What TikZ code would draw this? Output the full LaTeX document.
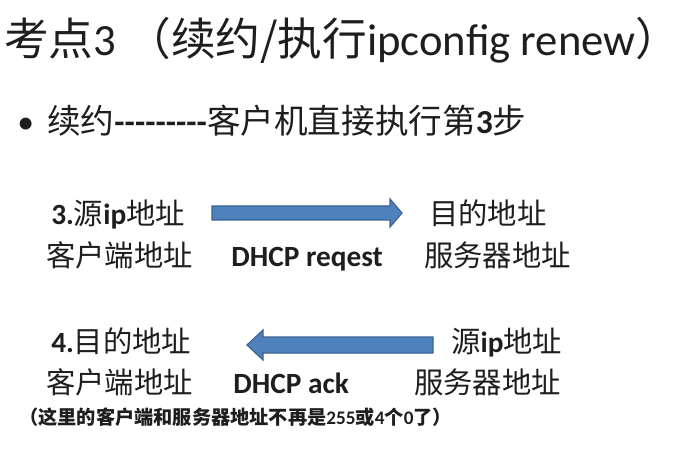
\documentclass[tikz,border=0pt]{standalone}
\usepackage{fontspec}
\setmainfont{Carlito}[Ligatures=TeXOff]
\newfontfamily\zh{Noto Sans CJK SC}
\usepackage{xcolor}
\usetikzlibrary{positioning}
\definecolor{arrowblue}{HTML}{4F81BD}
\definecolor{arrowedge}{HTML}{3A6396}
\definecolor{inkgray}{HTML}{1E1E1E}

\begin{document}
\begin{tikzpicture}[
    x=0.75pt, y=-0.75pt,
    base/.style={inner sep=0pt, anchor=base west, text=inkgray},
    titletext/.style={base, font=\fontsize{33.5}{40}\selectfont},
    bullettext/.style={base, font=\fontsize{25.2}{30}\selectfont},
    rowtext/.style={base, font=\fontsize{22}{26}\selectfont},
    notetext/.style={base, font=\fontsize{14.4}{17}\selectfont\bfseries},
    blockarr/.style={fill=arrowblue, draw=arrowedge, line width=0.9pt,
                     line join=miter},
  ]
    \useasboundingbox (0,0) rectangle (681,459);

    % ---- Title and bullet ----
    \node[titletext]  (title) at (4,56)
      {{\zh 考点}3 {\zh （续约/执行}ipconfig renew{\zh ）}\kern-0.45em};
    \node[bullettext] (dot)   at (17,134) {•};
    \node[bullettext] (renew) at (47,134)
      {{\zh 续约}\textbf{---------}{\zh 客户机直接执行第}\textbf{3}{\zh 步}};

    % ---- Step 3: client -> server ----
    \node[rowtext] (src1) at (51,225)  {\textbf{3.}{\zh 源}\textbf{ip}{\zh 地址}};
    \node[rowtext] (cli1) at (46,267)  {\zh 客户端地址};
    \node[rowtext] (req)  at (231,267) {\textbf{DHCP reqest}};
    \node[rowtext] (dst1) at (429,225) {\zh 目的地址};
    \node[rowtext] (srv1) at (424,267) {\zh 服务器地址};
    \filldraw[blockarr] (212,206) -- (390,206) -- (390,199) -- (402,213)
      -- (390,227) -- (390,220) -- (212,220) -- cycle;

    % ---- Step 4: server -> client ----
    \node[rowtext] (dst2) at (51,352)  {\textbf{4.}{\zh 目的地址}};
    \node[rowtext] (cli2) at (46,393)  {\zh 客户端地址};
    \node[rowtext] (ack)  at (233,393) {\textbf{DHCP ack}};
    \node[rowtext] (src2) at (451,352) {{\zh 源}\textbf{ip}{\zh 地址}};
    \node[rowtext] (srv2) at (414,393) {\zh 服务器地址};
    \filldraw[blockarr] (433,337) -- (263,337) -- (263,330) -- (247,345)
      -- (263,360) -- (263,353) -- (433,353) -- cycle;

    % ---- Remark ----
    \node[notetext] (remark) at (19,424)
      {{\zh （这里的客户端和服务器地址不再是}\textbf{255}{\zh 或}\textbf{4}{\zh 个}\textbf{0}{\zh 了）}};
  \end{tikzpicture}
\end{document}
